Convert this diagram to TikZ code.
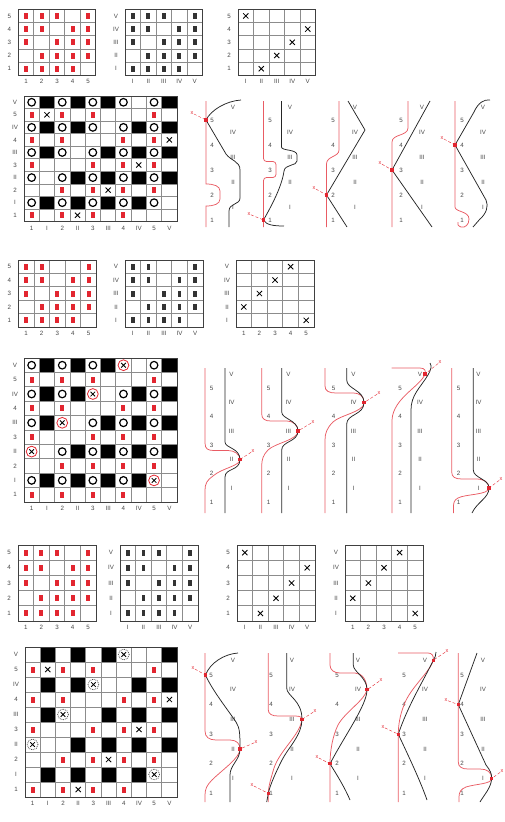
\documentclass[tikz,border=0pt]{standalone}
\usepackage{fontspec}
\setmainfont{Liberation Sans}
\usepackage{tikz}
\usetikzlibrary{calc}
\definecolor{markred}{RGB}{226, 38, 48}
\definecolor{gridgray}{RGB}{140, 140, 140}
\definecolor{labelgray}{RGB}{70, 70, 70}

% marks of a grid, rows from top: 1 red bar, 2 black cell, 3 ring, 4 cross,
% 5 cross in red ring, 6 cross in dotted ring, 7 dark bar
\newcommand{\cellmarks}[5]{%
  \foreach \cells [count=\rowi] in {#5} {
    \foreach \val [count=\coli] in \cells {
      \coordinate (m) at ({#1+(\coli-0.5)*#3},{#2+(\rowi-0.5)*#4});
      \ifcase\val
      \or \fill[markred] ($(m)+(-2,-3)$) rectangle ($(m)+(2,3)$);
      \or \fill[black] ({#1+(\coli-1)*#3},{#2+(\rowi-1)*#4}) rectangle ({#1+\coli*#3},{#2+\rowi*#4});
      \or \draw[ring] (m) circle (3.8);
      \or \draw[cross] ($(m)+(-2.6,-2.6)$) -- ($(m)+(2.6,2.6)$) ($(m)+(-2.6,2.6)$) -- ($(m)+(2.6,-2.6)$);
      \or \draw[markred, line width=0.8pt] (m) circle (5.4);
          \draw[cross] ($(m)+(-2.3,-2.3)$) -- ($(m)+(2.3,2.3)$) ($(m)+(-2.3,2.3)$) -- ($(m)+(2.3,-2.3)$);
      \or \draw[black!70, densely dotted, line width=0.8pt] (m) circle (5.4);
          \draw[cross] ($(m)+(-2.3,-2.3)$) -- ($(m)+(2.3,2.3)$) ($(m)+(-2.3,2.3)$) -- ($(m)+(2.3,-2.3)$);
      \or \fill[black!80] ($(m)+(-1.8,-3)$) rectangle ($(m)+(1.8,3)$);
      \fi
    }
  }
}

% grid: prefix, x0, y0, cell width, cell height, n, row labels, column labels, marks
\newcommand{\weavegrid}[9]{%
  \cellmarks{#2}{#3}{#4}{#5}{#9}
  \foreach \kk in {0,...,#6} {
    \draw[gridline] ({#2+\kk*#4},#3) -- ({#2+\kk*#4},{#3+#6*#5});
    \draw[gridline] (#2,{#3+\kk*#5}) -- ({#2+#6*#4},{#3+\kk*#5});
  }
  \draw[gridframe] (#2,#3) rectangle ({#2+#6*#4},{#3+#6*#5});
  \foreach \txt [count=\kk] in {#7}
    \node[lbl] (#1r\kk) at ({#2-9},{#3+(\kk-0.5)*#5}) {\txt};
  \foreach \txt [count=\kk] in {#8}
    \node[lbl] (#1c\kk) at ({#2+(\kk-0.5)*#4},{#3+#6*#5+6.5}) {\txt};
}

% labels beside a strand: prefix, x arabic, x roman, y of 5, step
\newcommand{\strandlabels}[5]{%
  \foreach \txt [count=\kk] in {5,4,3,2,1}
    \node[lbl] (#1a\kk) at (#2,{#4+(\kk-1)*#5}) {\txt};
  \foreach \txt [count=\kk] in {V,IV,III,II,I}
    \node[lbl] (#1r\kk) at (#3,{#4+(\kk-1.5)*#5}) {\txt};
}

% crossing with its marker: name, crossing point, marker point
\newcommand{\crossmark}[3]{%
  \coordinate (#1) at #2;
  \node[xmark] (#1x) at #3 {x};
  \draw[markline] (#1x) -- (#1);
  \fill[markred] ($(#1)+(-1.6,-1.6)$) rectangle ($(#1)+(1.6,1.6)$);
}

\begin{document}
\begin{tikzpicture}[x=1pt, y=-1pt,
    lbl/.style={text=labelgray, font=\fontsize{6.2}{7}\selectfont, inner sep=0pt},
    gridline/.style={gridgray, line width=0.65pt},
    gridframe/.style={black!75, line width=0.8pt},
    ring/.style={black, line width=1.2pt},
    cross/.style={black, line width=0.85pt},
    redstrand/.style={markred!75, line width=0.75pt},
    blackstrand/.style={black!85, line width=0.75pt},
    markline/.style={markred, densely dashed, line width=0.4pt},
    xmark/.style={text=markred, font=\fontsize{5.5}{6}\selectfont, inner sep=0.3pt}]
    \useasboundingbox (0,0) rectangle (505,822);

    % ==== Part 1: drafts ====
    \weavegrid{ta}{18.3}{9.3}{15.5}{13.2}{5}{5,4,3,2,1}{1,2,3,4,5}
      {{1,1,1,0,1},{1,1,0,1,1},{1,0,1,1,1},{0,1,1,1,1},{1,1,1,1,0}}
    \weavegrid{tb}{125}{9.3}{15.5}{13.2}{5}{V,IV,III,II,I}{I,II,III,IV,V}
      {{7,7,7,0,7},{7,7,0,7,7},{7,0,7,7,7},{0,7,7,7,7},{7,7,7,7,0}}
    \weavegrid{tc}{238}{9.3}{15.5}{13.2}{5}{5,4,3,2,1}{I,II,III,IV,V}
      {{4,0,0,0,0},{0,0,0,0,4},{0,0,0,4,0},{0,0,4,0,0},{0,4,0,0,0}}

    % Part 1: interlacing plan
    \weavegrid{pa}{24}{96}{15.3}{12.55}{10}{V,5,IV,4,III,3,II,2,I,1}{1,I,2,II,3,III,4,IV,5,V}
      {{3,2,3,2,3,2,3,0,3,2},{1,4,1,0,1,0,0,0,1,0},{3,2,3,2,3,0,3,2,3,2},
       {1,0,1,0,0,0,1,0,1,4},{3,2,3,0,3,2,3,2,3,2},{1,0,0,0,1,0,1,4,1,0},
       {3,0,3,2,3,2,3,2,3,2},{0,0,1,0,1,4,1,0,1,0},{3,2,3,2,3,2,3,2,3,0},
       {1,0,1,4,1,0,1,0,0,0}}

    % Part 1: strands
    \strandlabels{sa}{212}{233}{120}{25}
    \draw[redstrand] (206,101) -- (206,184) .. controls (214,184) and (220,186) .. (220,191)
      -- (220,199) .. controls (220,204) and (214,206) .. (206,206) -- (206,227);
    \draw[blackstrand] (241,100) .. controls (226,101) and (211,110) .. (206,120)
      -- (226,154) .. controls (231,161) and (240,161) .. (240,170) -- (240,198)
      .. controls (240,205) and (229,203) .. (229,211) -- (229,227);
    \crossmark{ka}{(206,120)}{(192,113)}

    \strandlabels{sb}{270}{290}{120}{25}
    \draw[redstrand, rounded corners=3pt] (263.5,101) -- (263.5,161.5) -- (276,161.5)
      -- (276,177.5) -- (263.5,177.5) -- (263.5,227);
    \draw[blackstrand] (281.5,101) -- (281.5,147) .. controls (281.5,151) and (297,149) .. (297,155)
      -- (297,161) .. controls (297,166) and (285,164) .. (284,171)
      .. controls (282,186) and (272,205) .. (263.5,220) .. controls (266,225) and (274,226) .. (284,226);
    \crossmark{kb}{(263.5,220)}{(249,214)}

    \strandlabels{sc}{333}{355}{120}{25}
    \draw[redstrand] (339,101) -- (339,150) .. controls (339,157) and (326.5,156) .. (326.5,164) -- (326.5,227);
    \draw[blackstrand] (348,101) -- (365,130) -- (326.5,195) -- (347,227);
    \crossmark{kc}{(326.5,195)}{(314,188)}

    \strandlabels{sd}{401}{422}{120}{25}
    \draw[redstrand] (408,101) -- (408,128) .. controls (408,136) and (392,134) .. (392,142) -- (392,227);
    \draw[blackstrand] (430,101) -- (392,170) -- (432,227);
    \crossmark{kd}{(392,170)}{(380,163)}

    \strandlabels{se}{462}{483}{120}{25}
    \draw[redstrand] (455,101) -- (455,207) .. controls (455,212) and (469,211) .. (469,219)
      .. controls (469,225) and (465,228) .. (461,227) .. controls (458,226) and (457,224) .. (458,222);
    \draw[blackstrand] (490,100) .. controls (484,99) and (478,103) .. (474,112) -- (455,145)
      -- (486,200) .. controls (489,206) and (486,214) .. (480,219) -- (473,227);
    \crossmark{ke}{(455,145)}{(442,138)}

    % ==== Part 2: drafts ====
    \weavegrid{ua}{18.3}{260}{15.6}{13.4}{5}{5,4,3,2,1}{1,2,3,4,5}
      {{1,1,0,0,1},{1,1,0,1,1},{1,0,1,1,1},{0,1,1,1,1},{1,1,1,1,0}}
    \weavegrid{ub}{125}{260}{15.6}{13.4}{5}{V,IV,III,II,I}{I,II,III,IV,V}
      {{7,7,0,0,7},{7,7,0,7,7},{7,0,7,7,7},{0,7,7,7,7},{7,7,7,7,0}}
    \weavegrid{uc}{236}{260}{15.6}{13.4}{5}{V,IV,III,II,I}{1,2,3,4,5}
      {{0,0,0,4,0},{0,0,4,0,0},{0,4,0,0,0},{4,0,0,0,0},{0,0,0,0,4}}

    % Part 2: interlacing plan
    \weavegrid{pb}{24}{358}{15.3}{14.4}{10}{V,5,IV,4,III,3,II,2,I,1}{1,I,2,II,3,III,4,IV,5,V}
      {{3,2,3,2,3,2,5,0,3,2},{1,0,1,0,1,0,0,0,1,0},{3,2,3,2,5,0,3,2,3,2},
       {1,0,1,0,0,0,1,0,1,0},{3,2,5,0,3,2,3,2,3,2},{1,0,0,0,1,0,1,0,1,0},
       {5,0,3,2,3,2,3,2,3,2},{0,0,1,0,1,0,1,0,1,0},{3,2,3,2,3,2,3,2,5,0},
       {1,0,1,0,1,0,1,0,0,0}}

    % Part 2: strands
    \strandlabels{va}{211.5}{231.5}{388.3}{28.5}
    \draw[redstrand] (205,368) -- (205,443) .. controls (205,449) and (208,450.5) .. (214,450.5)
      -- (228,450.5) .. controls (234,450.5) and (240,454) .. (240,459.5)
      .. controls (240,466) and (222,468) .. (213,476) .. controls (207,480) and (205,484) .. (205,490) -- (205,513);
    \draw[blackstrand] (225,368) -- (225,442) .. controls (225,448) and (240,448) .. (240,459.5)
      .. controls (240,471) and (225,468) .. (225,477) -- (225,513);
    \crossmark{la}{(240,459.5)}{(253,451)}

    \strandlabels{vb}{268.5}{288.5}{388.3}{28.5}
    \draw[redstrand] (261.7,368) -- (261.7,414) .. controls (261.7,419) and (265,421) .. (271,421)
      -- (287,421) .. controls (293,421) and (298,425) .. (298,431)
      .. controls (298,440) and (275,443) .. (268,450) .. controls (263,455) and (261.7,460) .. (261.7,466) -- (261.7,513);
    \draw[blackstrand] (281.7,368) -- (281.7,412) .. controls (281.7,419) and (298,420) .. (298,431)
      .. controls (298,442) and (281.7,441) .. (281.7,450) -- (281.7,513);
    \crossmark{lb}{(298,431)}{(313,422)}

    \strandlabels{vc}{333.5}{353.5}{388.3}{28.5}
    \draw[redstrand] (325,368) -- (325,386) .. controls (325,391) and (329,393) .. (336,393)
      -- (352,393) .. controls (360,393) and (364,396) .. (364,402.6)
      .. controls (364,412) and (340,415) .. (333,422) .. controls (327,428) and (325,433) .. (325,440) -- (325,513);
    \draw[blackstrand] (346.7,368) -- (346.7,380) .. controls (346.7,389) and (364,390) .. (364,402.6)
      .. controls (364,415) and (346.7,414) .. (346.7,424) -- (346.7,513);
    \crossmark{lc}{(364,402.6)}{(379,393)}

    \strandlabels{vd}{400}{420}{388.3}{28.5}
    \draw[redstrand] (391.5,368) -- (420,368) .. controls (425,368) and (426,371) .. (425,374)
      .. controls (421,386) and (393,398) .. (392,420) -- (392,513);
    \draw[blackstrand] (430,363) .. controls (432,366) and (431,370) .. (428,375)
      .. controls (420,388) and (411,395) .. (411,410) -- (411,513);
    \crossmark{ld}{(425,374)}{(440,362)}

    \strandlabels{ve}{458.5}{478.5}{388.3}{28.5}
    \draw[redstrand] (451.7,368) -- (451.7,472) .. controls (451.7,477) and (455,479) .. (462,479)
      -- (476,479) .. controls (484,479) and (489,482) .. (489,488)
      .. controls (489,495) and (465,494) .. (458,498) .. controls (454,500) and (453.5,503) .. (453.5,507) -- (453.5,513);
    \draw[blackstrand] (473.3,368) -- (473.3,470) .. controls (473.3,478) and (489,479) .. (489,488)
      .. controls (489,498) and (477,502) .. (472,513);
    \crossmark{le}{(489,488)}{(501,479)}

    % ==== Part 3: drafts ====
    \weavegrid{wa}{18}{545}{15.6}{15.2}{5}{5,4,3,2,1}{1,2,3,4,5}
      {{1,1,1,0,1},{1,1,0,1,1},{1,0,1,1,1},{0,1,1,1,1},{1,1,1,1,0}}
    \weavegrid{wb}{120}{545}{15.6}{15.2}{5}{V,IV,III,II,I}{I,II,III,IV,V}
      {{7,7,7,0,7},{7,7,0,7,7},{7,0,7,7,7},{0,7,7,7,7},{7,7,7,7,0}}
    \weavegrid{wc}{237}{545}{15.6}{15.2}{5}{5,4,3,2,1}{I,II,III,IV,V}
      {{4,0,0,0,0},{0,0,0,0,4},{0,0,0,4,0},{0,0,4,0,0},{0,4,0,0,0}}
    \weavegrid{wd}{345}{545}{15.6}{15.2}{5}{V,IV,III,II,I}{1,2,3,4,5}
      {{0,0,0,4,0},{0,0,4,0,0},{0,4,0,0,0},{4,0,0,0,0},{0,0,0,0,4}}

    % Part 3: interlacing plan
    \weavegrid{pc}{25}{647}{15.2}{15}{10}{V,5,IV,4,III,3,II,2,I,1}{1,I,2,II,3,III,4,IV,5,V}
      {{0,2,0,2,0,2,6,0,0,2},{1,4,1,0,1,0,0,0,1,0},{0,2,0,2,6,0,0,2,0,2},
       {1,0,1,0,0,0,1,0,1,4},{0,2,6,0,0,2,0,2,0,2},{1,0,0,0,1,0,1,4,1,0},
       {6,0,0,2,0,2,0,2,0,2},{0,0,1,0,1,4,1,0,1,0},{0,2,0,2,0,2,0,2,6,0},
       {1,0,1,4,1,0,1,0,0,0}}

    % Part 3: strands
    \strandlabels{xa}{211}{233}{675}{29.6}
    \draw[redstrand] (205,653) -- (205,731) .. controls (205,737) and (209,740) .. (216,740)
      -- (230,740) .. controls (237,740) and (240,744) .. (240,749)
      .. controls (240,758) and (222,770) .. (212,780) .. controls (207,785) and (205,789) .. (205,795) -- (205,802);
    \draw[blackstrand] (238,653) .. controls (224,654) and (210,663) .. (205.5,675)
      .. controls (212,690) and (228,710) .. (236,722) .. controls (240,728) and (240,735) .. (240,749)
      .. controls (240,760) and (230,765) .. (230,775) -- (230,802);
    \crossmark{na}{(205.5,675)}{(193,668)}
    \crossmark{nb}{(240,749)}{(256,742)}

    \strandlabels{xb}{271}{292}{675}{29.6}
    \draw[redstrand] (268.3,653) -- (268.3,710) .. controls (268.3,714) and (272,716) .. (278,716)
      -- (292,716) .. controls (298,716) and (302,716) .. (302,719.4)
      .. controls (300,735) and (280,750) .. (274,768) .. controls (271,778) and (268.3,787) .. (268.3,793.4) -- (268.3,802);
    \draw[blackstrand] (286.7,653) -- (286.7,688) .. controls (286.7,696) and (302,700) .. (302,719.4)
      .. controls (302,735) and (288,748) .. (282,760) .. controls (276,772) and (270,785) .. (268.3,793.4) -- (266.7,802);
    \crossmark{nc}{(302,719.4)}{(315,711)}
    \crossmark{nd}{(268.3,793.4)}{(252,785)}

    \strandlabels{xc}{337}{358}{675}{29.6}
    \draw[redstrand] (330,653) -- (330,665) .. controls (330,670) and (334,673) .. (340,673)
      -- (355,673) .. controls (362,673) and (367,680) .. (367,689.8)
      .. controls (365,700) and (345,712) .. (338,725) .. controls (333,735) and (330,750) .. (330,763.8) -- (330,802);
    \draw[blackstrand] (353.3,653) -- (353.3,665) .. controls (353.3,672) and (367,677) .. (367,689.8)
      .. controls (367,705) and (345,735) .. (330,763.8) .. controls (337,775) and (345,788) .. (350,800);
    \crossmark{ne}{(367,689.8)}{(381,680)}
    \crossmark{nf}{(330,763.8)}{(317,757)}

    \strandlabels{xd}{404}{425}{675}{29.6}
    \draw[redstrand] (398,653) -- (428,653) .. controls (432,653) and (434,656) .. (433.3,660.2)
      .. controls (430,672) and (410,688) .. (404,705) .. controls (400,715) and (398.3,725) .. (398.3,734.2) -- (398.3,802);
    \draw[blackstrand] (436,652) .. controls (436,655) and (435,658) .. (433.3,660.2)
      .. controls (425,678) and (408,705) .. (398.3,734.2) .. controls (408,755) and (420,780) .. (427,800);
    \crossmark{ng}{(433.3,660.2)}{(447,651)}
    \crossmark{nh}{(398.3,734.2)}{(383,727)}

    \strandlabels{xe}{462}{483}{675}{29.6}
    \draw[redstrand] (458.3,653) -- (458.3,762) .. controls (458.3,767) and (462,769) .. (468,769)
      -- (480,769) .. controls (487,769) and (491.7,772) .. (491.7,778.6)
      .. controls (491.7,784) and (475,784) .. (466,787) .. controls (461,789) and (459,792) .. (459,797) -- (459,802);
    \draw[blackstrand] (477,653) -- (458.3,704.6) -- (486,765) .. controls (490,770) and (492,774) .. (491.7,778.6)
      .. controls (491,788) and (484,795) .. (480,802);
    \crossmark{ni}{(458.3,704.6)}{(446,700)}
    \crossmark{nj}{(491.7,778.6)}{(502,771)}
\end{tikzpicture}
\end{document}
